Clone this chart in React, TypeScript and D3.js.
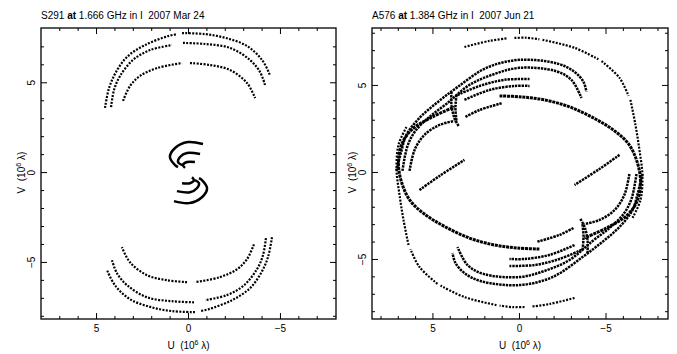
import React from "react";
import * as d3 from "d3";

type P = [number, number];

// ---------- S291 (left panel) : u,v in 10^6 lambda ; conjugates (-u,-v) drawn too ----------
const s291Title = ["S291 ", "at", " 1.666 GHz in I  2007 Mar 24"];
const s291Dotted: P[][] = [
  [[4.54, 3.6], [4.32, 4.71], [3.94, 5.6], [3.34, 6.44], [2.37, 7.1], [1.11, 7.6], [0.62, 7.71]],
  [[0.35, 7.77], [-0.9, 7.71], [-2.04, 7.49], [-3.18, 7.05], [-4.0, 6.27], [-4.43, 5.43]],
  [[4.21, 3.65], [4.05, 4.6], [3.72, 5.38], [3.02, 6.27], [2.09, 6.82], [0.9, 7.1]],
  [[0.3, 7.22], [-0.9, 7.16], [-2.26, 6.94], [-3.34, 6.27], [-3.89, 5.6], [-4.16, 4.88]],
  [[3.56, 3.99], [3.18, 4.82], [2.64, 5.38], [1.71, 5.82], [0.35, 6.1]],
  [[-0.08, 6.1], [-1.17, 5.99], [-2.26, 5.71], [-3.18, 4.99], [-3.62, 4.15]],
];
const s291Solid: P[][] = [
  [[-0.79, 1.59], [0.03, 1.7], [0.73, 1.37], [1.01, 0.87], [0.73, 0.42], [0.57, 0.31]],
  [[-0.63, 1.03], [0.08, 1.09], [0.46, 0.87], [0.57, 0.59], [0.35, 0.42]],
  [[-0.35, 0.59], [0.08, 0.59], [0.3, 0.42], [0.19, 0.26]],
];

// ---------- A576 (right panel) ----------
const a576Title = ["A576 ", "at", " 1.384 GHz in I  2007 Jun 21"];
const a576Dotted: P[][] = [
  [[3.18, 7.21], [1.73, 7.56], [0.75, 7.7]],
  [[0.29, 7.73], [-0.4, 7.74], [-1.15, 7.65]],
  [[-1.33, 7.62], [-3.18, 7.16], [-4.56, 6.5]],
  [[-4.74, 6.4], [-5.78, 5.43], [-6.3, 4.4]],
  [[-6.41, 4.17], [-6.7, 2.73], [-6.93, 1.29], [-7.1, -0.14], [-6.99, -1.58], [-6.53, -2.61]],
];
const a576Dashed: P[][] = [
  [[7.11, 0.09], [6.82, 1.24], [6.53, 2.16], [5.78, 3.13], [4.79, 3.99], [3.64, 4.86], [1.91, 6.01],
   [0, 6.47], [-2.25, 6.24], [-3.18, 5.78], [-3.7, 5.2], [-3.87, 4.63]],
  [[6.76, 0.09], [6.47, 1.52], [6.01, 2.39], [5.2, 3.19], [4.22, 3.94], [2.89, 5.03], [1.44, 5.66],
   [0, 6.01], [-2.08, 5.83], [-3.0, 5.32], [-3.58, 4.28]],
  [[6.35, 0.09], [6.06, 1.29], [5.49, 2.16], [4.62, 2.73], [3.76, 2.96]],
  [[3.58, 4.45], [2.31, 4.97], [0.87, 5.32], [-0.58, 5.37]],
  [[3.18, 4.17], [1.73, 4.74], [0.29, 4.97], [-0.58, 4.97]],
  [[3.93, 4.63], [3.93, 3.88], [3.76, 3.13], [3.52, 2.67]],
  [[3.64, 4.45], [3.7, 3.71], [3.64, 2.96]],
  [[3.12, 3.19], [2.31, 3.59], [0.98, 3.99]],
  [[5.78, -1.01], [4.62, -0.2], [3.18, 0.72]],
];
const a576Band: P[][] = [
  [[1.15, 4.4], [-0.12, 4.34], [-1.44, 4.17], [-2.89, 3.77], [-4.39, 3.07], [-5.49, 2.39], [-6.3, 1.64],
   [-6.76, 0.72], [-6.99, -0.43], [-6.82, -1.58], [-6.24, -2.44], [-5.03, -3.19], [-3.76, -3.76]],
];

const tickVals = d3.range(-8, 9);
const xTickLabels = [5, 0, -5];
const fmt = (v: number) => (v < 0 ? "\u2212" + Math.abs(v) : String(v));

type PanelProps = {
  left: number; right: number; top: number; bottom: number;
  uDom: [number, number]; vDom: [number, number];
  title: string[]; dotted: P[][]; solid: P[][]; dashed: P[][]; band: P[][];
};

function Panel(p: PanelProps) {
  const x = d3.scaleLinear().domain(p.uDom).range([p.left, p.right]);
  const y = d3.scaleLinear().domain(p.vDom).range([p.bottom, p.top]);
  const line = d3.line<P>().x((d) => x(d[0])).y((d) => y(d[1])).curve(d3.curveCatmullRom.alpha(0.5));
  const withConj = (tracks: P[][]) => tracks.flatMap((t) => [t, t.map((q) => [-q[0], -q[1]] as P)]);
  const font = "'Liberation Sans', Arial, Helvetica, sans-serif";
  const cx = (p.left + p.right) / 2;
  const cy = y(0);
  return (
    <g>
      <text x={p.left} y={19} fontSize={10} fontFamily={font} xmlSpace="preserve" style={{ whiteSpace: "pre" }}>
        <tspan>{p.title[0]}</tspan>
        <tspan fontWeight="bold">{p.title[1]}</tspan>
        <tspan>{p.title[2]}</tspan>
      </text>
      {withConj(p.band).map((t, i) => (
        <path key={"b" + i} d={line(t) || ""} fill="none" stroke="#000" strokeWidth={3} strokeDasharray="3 0.8" />
      ))}
      {withConj(p.dashed).map((t, i) => (
        <path key={"d" + i} d={line(t) || ""} fill="none" stroke="#000" strokeWidth={2.5} strokeDasharray="2.4 0.9" />
      ))}
      {withConj(p.dotted).map((t, i) => (
        <path key={"o" + i} d={line(t) || ""} fill="none" stroke="#000" strokeWidth={2.2} strokeDasharray="2 1.4" />
      ))}
      {withConj(p.solid).map((t, i) => (
        <path key={"s" + i} d={line(t) || ""} fill="none" stroke="#000" strokeWidth={2.5} />
      ))}
      <rect x={p.left} y={p.top} width={p.right - p.left} height={p.bottom - p.top} fill="none" stroke="#000" strokeWidth={1.3} />
      {tickVals.map((v) => {
        const len = v % 5 === 0 ? 6 : 3;
        const xv = x(v);
        const yv = y(v);
        return (
          <g key={"t" + v} stroke="#000" strokeWidth={1}>
            {xv > p.left + 1 && xv < p.right - 1 && (
              <>
                <line x1={xv} x2={xv} y1={p.bottom} y2={p.bottom - len} />
                <line x1={xv} x2={xv} y1={p.top} y2={p.top + len} />
              </>
            )}
            {yv > p.top + 1 && yv < p.bottom - 1 && (
              <>
                <line x1={p.left} x2={p.left + len} y1={yv} y2={yv} />
                <line x1={p.right} x2={p.right - len} y1={yv} y2={yv} />
              </>
            )}
          </g>
        );
      })}
      {xTickLabels.map((v) => (
        <text key={"xl" + v} x={x(v)} y={332} fontSize={10} fontFamily={font} textAnchor="middle">
          {fmt(v)}
        </text>
      ))}
      {xTickLabels.map((v) => (
        <text key={"yl" + v} transform={`translate(${p.left - 6},${y(v)}) rotate(-90)`} fontSize={10} fontFamily={font} textAnchor="middle">
          {fmt(v)}
        </text>
      ))}
      <text x={cx} y={349} fontSize={10} fontFamily={font} textAnchor="middle" xmlSpace="preserve" style={{ whiteSpace: "pre" }}>
        U  (10<tspan fontSize={7} dy={-4}>6</tspan><tspan dy={4}> λ)</tspan>
      </text>
      <text transform={`translate(${p.left - 16},${cy}) rotate(-90)`} fontSize={10} fontFamily={font} textAnchor="middle" xmlSpace="preserve" style={{ whiteSpace: "pre" }}>
        V  (10<tspan fontSize={7} dy={-4}>6</tspan><tspan dy={4}> λ)</tspan>
      </text>
    </g>
  );
}

export default function App() {
  return (
    <svg width={677} height={354} style={{ position: "absolute", left: 0, top: 0, background: "#fff" }}>
      <rect width={677} height={354} fill="#fff" />
      <Panel left={41} right={336} top={28} bottom={319} uDom={[8.02, -8.02]} vDom={[-8.15, 8.05]}
        title={s291Title} dotted={s291Dotted} solid={s291Solid} dashed={[]} band={[]} />
      <Panel left={372} right={668} top={28} bottom={319} uDom={[8.52, -8.58]} vDom={[-8.42, 8.3]}
        title={a576Title} dotted={a576Dotted} solid={[]} dashed={a576Dashed} band={a576Band} />
    </svg>
  );
}
